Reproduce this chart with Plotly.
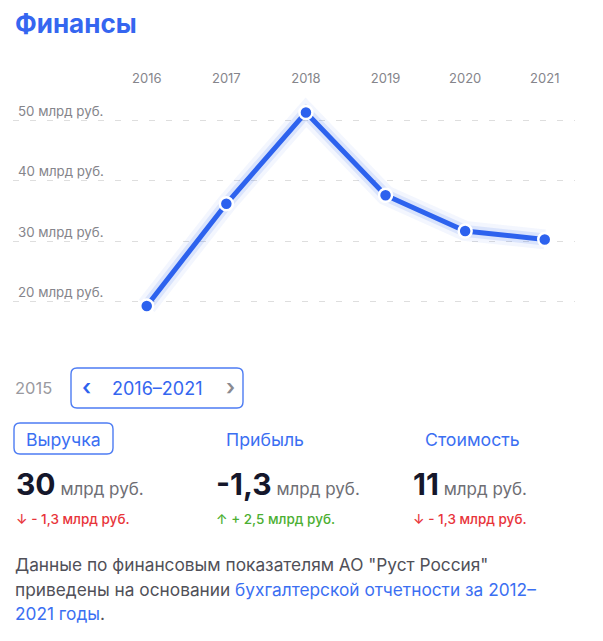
import plotly.graph_objects as go

years = [2016, 2017, 2018, 2019, 2020, 2021]
revenue = [19.3, 36.2, 51.3, 37.6, 31.7, 30.3]
y_ticks = [20, 30, 40, 50]
y_tick_labels = ["20 млрд руб.", "30 млрд руб.", "40 млрд руб.", "50 млрд руб."]

metric_names = ["Выручка", "Прибыль", "Стоимость"]
metric_values = ["30", "-1,3", "11"]
metric_changes = ["↓ - 1,3 млрд руб.", "↑ + 2,5 млрд руб.", "↓ - 1,3 млрд руб."]
metric_up = [False, True, False]

OFF = 8  # page body margin
W, H = 603 - OFF, 641 - OFF
L, R, T, B = 13 - OFF, 28, 95 - OFF, 316
PW, PH = W - L - R, H - T - B
FONT = "Inter, Roboto, sans-serif"
BLUE = "#2d62ee"
LINK = "#3b6ff2"


def px(x):
    return (x - OFF - L) / PW


def py(y):
    return (H - B - (y - OFF)) / PH


fig = go.Figure()
# glow
fig.add_trace(go.Scatter(x=years, y=revenue, mode="lines",
                         line=dict(color="rgba(45,98,238,0.06)", width=20),
                         hoverinfo="skip", showlegend=False))
fig.add_trace(go.Scatter(x=years, y=revenue, mode="lines",
                         line=dict(color="rgba(45,98,238,0.12)", width=12),
                         hoverinfo="skip", showlegend=False))
fig.add_trace(go.Scatter(x=years, y=revenue, mode="lines+markers",
                         line=dict(color=BLUE, width=5),
                         marker=dict(size=13, color=BLUE, line=dict(color="white", width=2.5)),
                         showlegend=False))

fig.update_layout(
    width=W, height=H,
    margin=dict(l=L, r=R, t=T, b=B),
    paper_bgcolor="white", plot_bgcolor="white",
    font=dict(family=FONT),
    xaxis=dict(side="top", range=[2014.32, 2021.38], tickvals=years,
               ticktext=[str(y) for y in years], showgrid=False, zeroline=False,
               showline=False, ticks="", ticklabelstandoff=8,
               tickfont=dict(size=13, color="#85858b")),
    yaxis=dict(range=[16.15, 54.18], tickvals=y_ticks, ticktext=y_tick_labels,
               ticklabelposition="inside top", ticklabelstandoff=2,
               showgrid=True, gridcolor="#dedede",
               griddash="6px,11px", gridwidth=1.2, zeroline=False, showline=False,
               ticks="", tickfont=dict(size=13.3, color="#85858b")),
)

ann = []
shapes = []


def text(x, y, t, size, color, weight=400, xanchor="left"):
    ann.append(dict(x=px(x), y=py(y), xref="paper", yref="paper", text=t,
                    showarrow=False, xanchor=xanchor, yanchor="middle",
                    font=dict(size=size, color=color, family=FONT, weight=weight)))


def rbox(x0, y0, x1, y1, r, color, width):
    X0, X1 = px(x0), px(x1)
    Y0, Y1 = py(y0), py(y1)
    rx, ry = r / PW, r / PH
    path = (f"M {X0+rx},{Y0} L {X1-rx},{Y0} Q {X1},{Y0} {X1},{Y0-ry} "
            f"L {X1},{Y1+ry} Q {X1},{Y1} {X1-rx},{Y1} L {X0+rx},{Y1} "
            f"Q {X0},{Y1} {X0},{Y1+ry} L {X0},{Y0-ry} Q {X0},{Y0} {X0+rx},{Y0} Z")
    shapes.append(dict(type="path", path=path, xref="paper", yref="paper",
                       line=dict(color=color, width=width)))


# title
text(13, 23, "Финансы", 26, "#3566f0", weight=700)

# period selector
text(13, 388, "2015", 16.5, "#9a9aa0")
rbox(71, 368, 243, 408, 6, "#4d7cf3", 1.4)
text(86, 387, "‹", 22, BLUE, weight=600, xanchor="center")
text(157, 388, "2016–2021", 18, "#3566f0", xanchor="center")
text(230, 387, "›", 22, "#8a8a90", weight=600, xanchor="center")

# metrics
cols = [14, 214, 411]
name_centers = [63, 265, 472]
rbox(14, 423, 113, 454, 6, "#4d7cf3", 1.4)
for i in range(3):
    text(name_centers[i], 439, metric_names[i], 17.7, LINK, xanchor="center")
    ann.append(dict(x=px(cols[i]), y=py(484), xref="paper", yref="paper",
                    text=f"<b>{metric_values[i]}</b><span style='font-size:17px;color:#6e6e74'> млрд руб.</span>",
                    showarrow=False, xanchor="left", yanchor="middle",
                    font=dict(size=30, color="#15172b", family=FONT)))
    text(cols[i], 519, metric_changes[i], 13.5,
         "#4caf32" if metric_up[i] else "#e8343a", weight=500)

# footer
GR = "#505058"
FS = 17.3
text(13, 564, "Данные по финансовым показателям АО \"Руст Россия\"", FS, GR)
text(13, 589, f"приведены на основании <span style='color:{LINK}'>бухгалтерской отчетности за 2012–</span>", FS, GR)
text(13, 613, f"<span style='color:{LINK}'>2021 годы</span>.", FS, GR)

fig.update_layout(annotations=ann, shapes=shapes)
fig.write_html("out.html")
